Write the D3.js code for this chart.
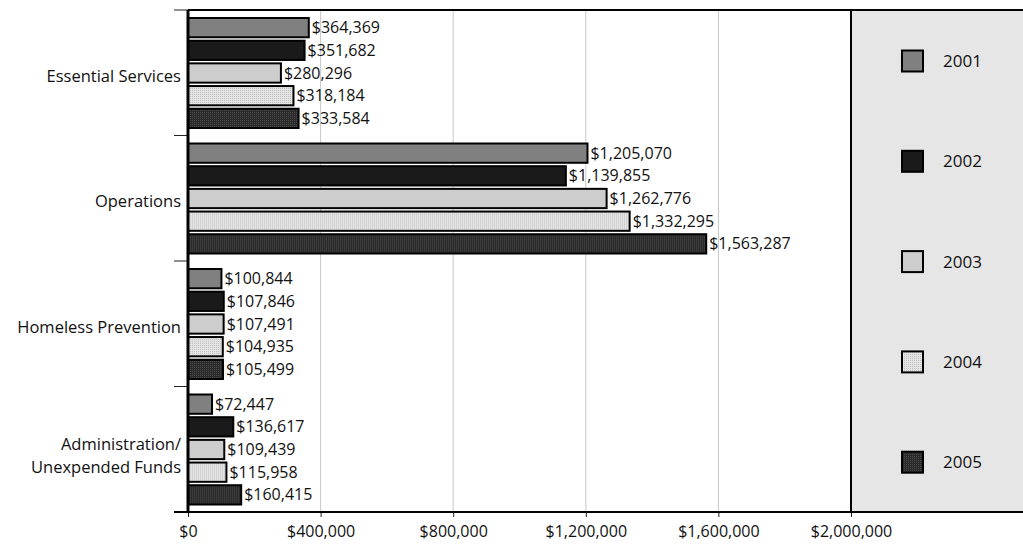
<!DOCTYPE html>
<html><head><meta charset="utf-8">
<script src="https://cdn.jsdelivr.net/npm/d3@7"></script>
<style>body{margin:0;background:#fff}svg{display:block}text{font-family:"Open Sans",sans-serif;fill:#111}</style>
</head><body>
<svg id="c" width="1023" height="545"></svg>
<script>
const categories = ["Essential Services","Operations","Homeless Prevention","Administration/\nUnexpended Funds"];
const years = ["2001","2002","2003","2004","2005"];
const v2001 = [364369,1205070,100844,72447];
const v2002 = [351682,1139855,107846,136617];
const v2003 = [280296,1262776,107491,109439];
const v2004 = [318184,1332295,104935,115958];
const v2005 = [333584,1563287,105499,160415];
const xTicks = [0,400000,800000,1200000,1600000,2000000];
const series = [v2001,v2002,v2003,v2004,v2005];

const svg = d3.select("#c");
const defs = svg.append("defs");
const p4 = defs.append("pattern").attr("id","p4").attr("width",2).attr("height",2).attr("patternUnits","userSpaceOnUse");
p4.append("rect").attr("width",2).attr("height",2).attr("fill","#e4e4e4");
p4.append("rect").attr("width",1).attr("height",1).attr("fill","#c0c0c0");
const p5 = defs.append("pattern").attr("id","p5").attr("width",2).attr("height",2).attr("patternUnits","userSpaceOnUse");
p5.append("rect").attr("width",2).attr("height",2).attr("fill","#2a2a2a");
p5.append("rect").attr("width",1).attr("height",1).attr("fill","#4a4a4a");
const fills = ["#808080","#1a1a1a","#cdcdcd","url(#p4)","url(#p5)"];

const x0=188, x1=851, yTop=10, yBot=512;
const x = d3.scaleLinear().domain([0,2000000]).range([x0,x1]);
const y = d3.scaleBand().domain(categories).range([yTop,yBot]);
const yi = d3.scaleBand().domain(years).range([8,118]).paddingInner(0.15);

// legend panel
svg.append("rect").attr("x",x1).attr("y",yTop).attr("width",1023-x1).attr("height",yBot-yTop).attr("fill","#e6e6e6");

// gridlines
svg.append("g").selectAll("line").data(xTicks.slice(1)).join("line")
  .attr("x1",d=>x(d)).attr("x2",d=>x(d)).attr("y1",yTop).attr("y2",yBot)
  .attr("stroke","#c8c8c8").attr("stroke-width",1);

// x axis
const xa = svg.append("g").attr("transform",`translate(0,${yBot})`)
  .call(d3.axisBottom(x).tickValues(xTicks).tickSize(5).tickPadding(9).tickFormat(d=>"$"+d3.format(",")(d)));
xa.select(".domain").remove();
xa.selectAll("line").attr("stroke","#222");
xa.selectAll("text").attr("font-size",16).attr("font-family","'Open Sans',sans-serif").attr("fill","#111");

// bars
const g = svg.append("g");
categories.forEach((c,ci)=>{
  const gg = g.append("g").attr("transform",`translate(0,${y(c)})`);
  gg.selectAll("rect").data(years).join("rect")
    .attr("x",x(0)).attr("y",d=>yi(d))
    .attr("width",(d,i)=>x(series[i][ci])-x(0)).attr("height",yi.bandwidth())
    .attr("fill",(d,i)=>fills[i]).attr("stroke","#000").attr("stroke-width",2);
  gg.selectAll("text").data(years).join("text")
    .attr("x",(d,i)=>x(series[i][ci])+3).attr("y",d=>yi(d)+yi.bandwidth()/2)
    .attr("dy","0.35em").attr("font-size",16)
    .text((d,i)=>"$"+d3.format(",")(series[i][ci]));
});

// category labels
categories.forEach(c=>{
  const lines = c.split("\n");
  const cy = y(c)+y.bandwidth()/2 + 3 + (lines.length>1?3:0);
  const t = svg.append("text").attr("text-anchor","end").attr("font-size",16.5);
  lines.forEach((l,i)=>{
    t.append("tspan").attr("x",181).attr("y",cy+(i-(lines.length-1)/2)*23).attr("dy","0.35em").text(l);
  });
});

// category ticks
const catTicks = categories.map(c=>y(c)).concat([yBot]);
svg.append("g").selectAll("line").data(catTicks).join("line")
  .attr("x1",174).attr("x2",x0).attr("y1",d=>d).attr("y2",d=>d).attr("stroke","#222").attr("stroke-width",1);

// frame lines
svg.append("line").attr("x1",x0).attr("x2",1023).attr("y1",yTop).attr("y2",yTop).attr("stroke","#000").attr("stroke-width",2);
svg.append("line").attr("x1",174).attr("x2",1023).attr("y1",yBot).attr("y2",yBot).attr("stroke","#000").attr("stroke-width",2);
svg.append("line").attr("x1",x0).attr("x2",x0).attr("y1",yTop).attr("y2",yBot).attr("stroke","#000").attr("stroke-width",3);
svg.append("line").attr("x1",x1).attr("x2",x1).attr("y1",yTop).attr("y2",yBot).attr("stroke","#000").attr("stroke-width",2);

// legend
const lg = svg.append("g");
years.forEach((yr,i)=>{
  const cy = 61 + i*100.3;
  lg.append("rect").attr("x",902).attr("y",cy-10.5).attr("width",21).attr("height",21)
    .attr("fill",fills[i]).attr("stroke","#000").attr("stroke-width",2);
  lg.append("text").attr("x",943).attr("y",cy).attr("dy","0.35em").attr("font-size",17).text(yr);
});
</script>
</body></html>
